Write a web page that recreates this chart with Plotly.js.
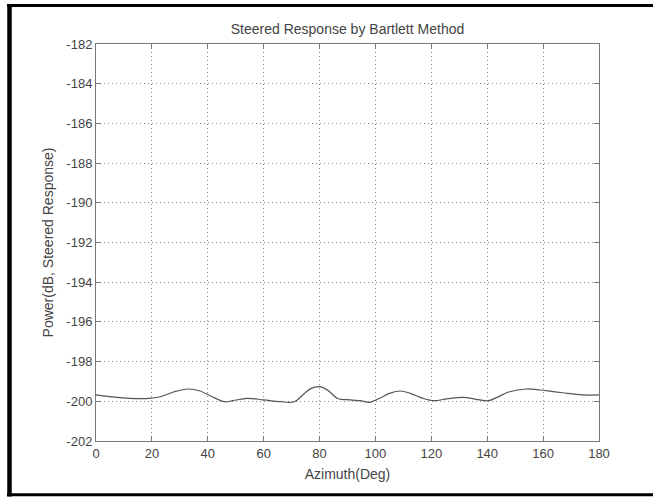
<!DOCTYPE html>
<html>
<head>
<meta charset="utf-8">
<script src="https://cdn.plot.ly/plotly-3.0.1.min.js"></script>
<style>html,body{margin:0;padding:0;background:#fff;}#chart{width:653px;height:497px;}</style>
</head>
<body>
<div id="chart"></div>
<script>
// Data
const azimuthDeg = [0, 6, 12, 19, 23, 28, 33, 37, 41, 46, 49, 54, 60, 66, 71, 74, 77, 80, 83, 86.5, 91, 95, 98, 101.5, 105, 109, 112.5, 117, 121, 125.5, 131.5, 136, 140.5, 143.5, 148, 154, 159, 163, 167, 174, 180];
const powerDb = [-199.68, -199.78, -199.85, -199.85, -199.77, -199.52, -199.38, -199.47, -199.73, -200.02, -199.97, -199.85, -199.93, -200.02, -200.02, -199.68, -199.35, -199.26, -199.45, -199.86, -199.93, -199.98, -200.05, -199.85, -199.6, -199.48, -199.6, -199.85, -199.97, -199.88, -199.8, -199.9, -199.97, -199.8, -199.52, -199.38, -199.43, -199.5, -199.57, -199.68, -199.68];
const xTicks = [0, 20, 40, 60, 80, 100, 120, 140, 160, 180];
const yTicks = [-182, -184, -186, -188, -190, -192, -194, -196, -198, -200, -202];

const W = 653, H = 497;
const L = 96, R = 599, T = 44, B = 441;
const px = x => (x - L) / (R - L);
const py = y => (B - y) / (B - T);

const fam = '"Liberation Sans", Arial, sans-serif';
const tickFont = {family: fam, size: 13, color: '#444'};
const titleFont = {family: fam, size: 14, color: '#444'};

const axisCommon = {
  showline: true, linecolor: '#777', linewidth: 1, mirror: 'ticks',
  ticks: 'inside', ticklen: 5, tickcolor: '#777', tickwidth: 1,
  showgrid: true, gridcolor: '#8a8a8a', gridwidth: 1, griddash: '1px,3px',
  zeroline: false, tickfont: tickFont
};

const trace = {
  x: azimuthDeg, y: powerDb, type: 'scatter', mode: 'lines',
  line: {color: '#555', width: 1.2, shape: 'spline', smoothing: 1}
};

const layout = {
  width: W, height: H,
  margin: {l: L, r: W - R, t: T, b: H - B, pad: 0},
  paper_bgcolor: '#fff', plot_bgcolor: '#fff',
  showlegend: false,
  font: tickFont,
  title: {text: 'Steered Response by Bartlett Method', font: titleFont,
          x: 0.5, xref: 'paper', xanchor: 'center', y: 1 - 29 / H, yref: 'container', yanchor: 'middle'},
  xaxis: Object.assign({}, axisCommon, {
    range: [0, 180], tickvals: xTicks, ticktext: xTicks.map(String),
    title: {text: 'Azimuth(Deg)', font: titleFont, standoff: 9}
  }),
  yaxis: Object.assign({}, axisCommon, {
    range: [-202, -182], tickvals: yTicks, ticktext: yTicks.map(String),
    title: {text: 'Power(dB, Steered Response)', font: titleFont, standoff: 9}
  }),
  shapes: [
    {type: 'line', xref: 'paper', yref: 'paper', x0: px(9.5), x1: px(9.5), y0: py(4), y1: py(496.5), line: {color: '#000', width: 4.5}},
    {type: 'line', xref: 'paper', yref: 'paper', x0: px(7), x1: px(653), y0: py(5.6), y1: py(5.6), line: {color: '#000', width: 3}},
    {type: 'line', xref: 'paper', yref: 'paper', x0: px(7), x1: px(653), y0: py(494.8), y1: py(494.8), line: {color: '#000', width: 3}}
  ]
};

Plotly.newPlot('chart', [trace], layout, {displayModeBar: false, staticPlot: true});
</script>
</body>
</html>
